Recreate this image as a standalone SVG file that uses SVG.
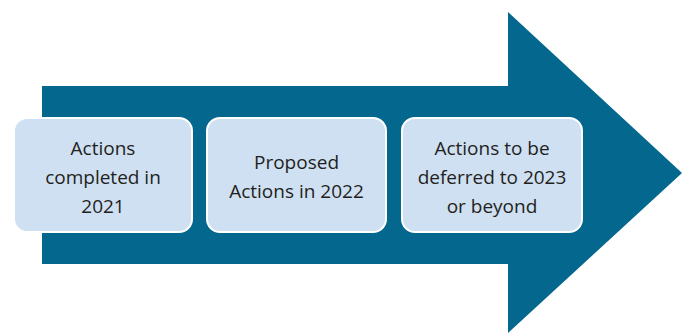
<svg xmlns="http://www.w3.org/2000/svg" width="691" height="333" viewBox="0 0 691 333">
<style>
.box{fill:#cfe0f2;stroke:#ffffff;stroke-width:2}
.t{font-family:"Open Sans","Noto Sans",sans-serif;font-size:19px;fill:#231f20;text-anchor:middle}
</style>
<rect width="691" height="333" fill="#ffffff"/>
<g id="arrow">
<path d="M42,86 L508,86 L508,12 L682,173 L508,333 L508,264 L42,264 Z" fill="#03678e"/>
</g>
<g id="connectors"></g>
<g id="node1">
<rect class="box" x="14" y="118" width="178" height="114" rx="13"/>
<text class="t" x="103" y="155">Actions</text>
<text class="t" x="103" y="184">completed in</text>
<text class="t" x="103" y="213">2021</text>
</g>
<g id="node2">
<rect class="box" x="207" y="118" width="179" height="114" rx="13"/>
<text class="t" x="296.5" y="169">Proposed</text>
<text class="t" x="296.5" y="198">Actions in 2022</text>
</g>
<g id="node3">
<rect class="box" x="402" y="118" width="180" height="114" rx="13"/>
<text class="t" x="492" y="155">Actions to be</text>
<text class="t" x="492" y="184">deferred to 2023</text>
<text class="t" x="492" y="213">or beyond</text>
</g>
</svg>
